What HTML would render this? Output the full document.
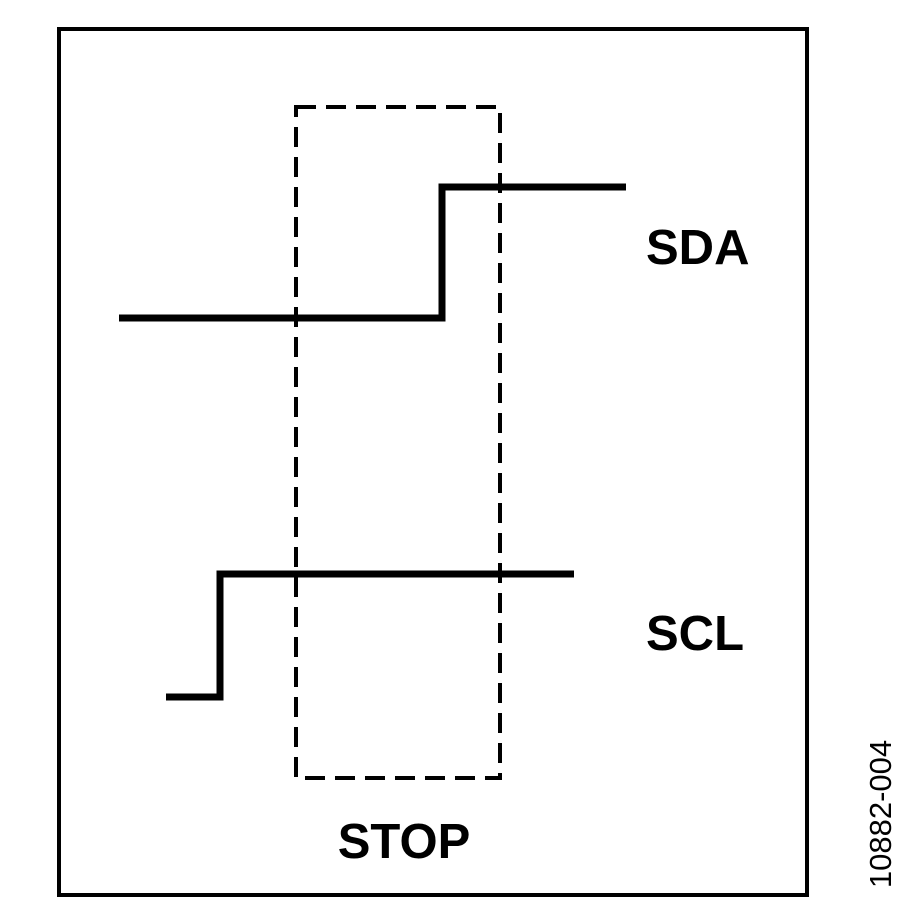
<!DOCTYPE html>
<html><head><meta charset="utf-8"><style>
html,body{margin:0;padding:0;background:#fff;}
svg{display:block;}
text{font-family:"Liberation Sans",Arial,sans-serif;fill:#000;}
</style></head><body>
<svg width="900" height="907" viewBox="0 0 900 907" xmlns="http://www.w3.org/2000/svg">
<rect x="59" y="29" width="748" height="866" fill="none" stroke="#000" stroke-width="4"/>
<rect x="296" y="107" width="204" height="671" fill="none" stroke="#000" stroke-width="4" stroke-dasharray="20,10"/>
<polyline points="119,318 442,318 442,187 626,187" fill="none" stroke="#000" stroke-width="7"/>
<polyline points="166,697 220,697 220,574 574,574" fill="none" stroke="#000" stroke-width="7"/>
<text x="646" y="264" font-size="49" font-weight="bold">SDA</text>
<text x="646" y="650" font-size="49" font-weight="bold">SCL</text>
<text x="404" y="858" font-size="49" font-weight="bold" text-anchor="middle">STOP</text>
<text transform="translate(891,814) rotate(-90)" font-size="31" text-anchor="middle">10882-004</text>
</svg>
</body></html>
